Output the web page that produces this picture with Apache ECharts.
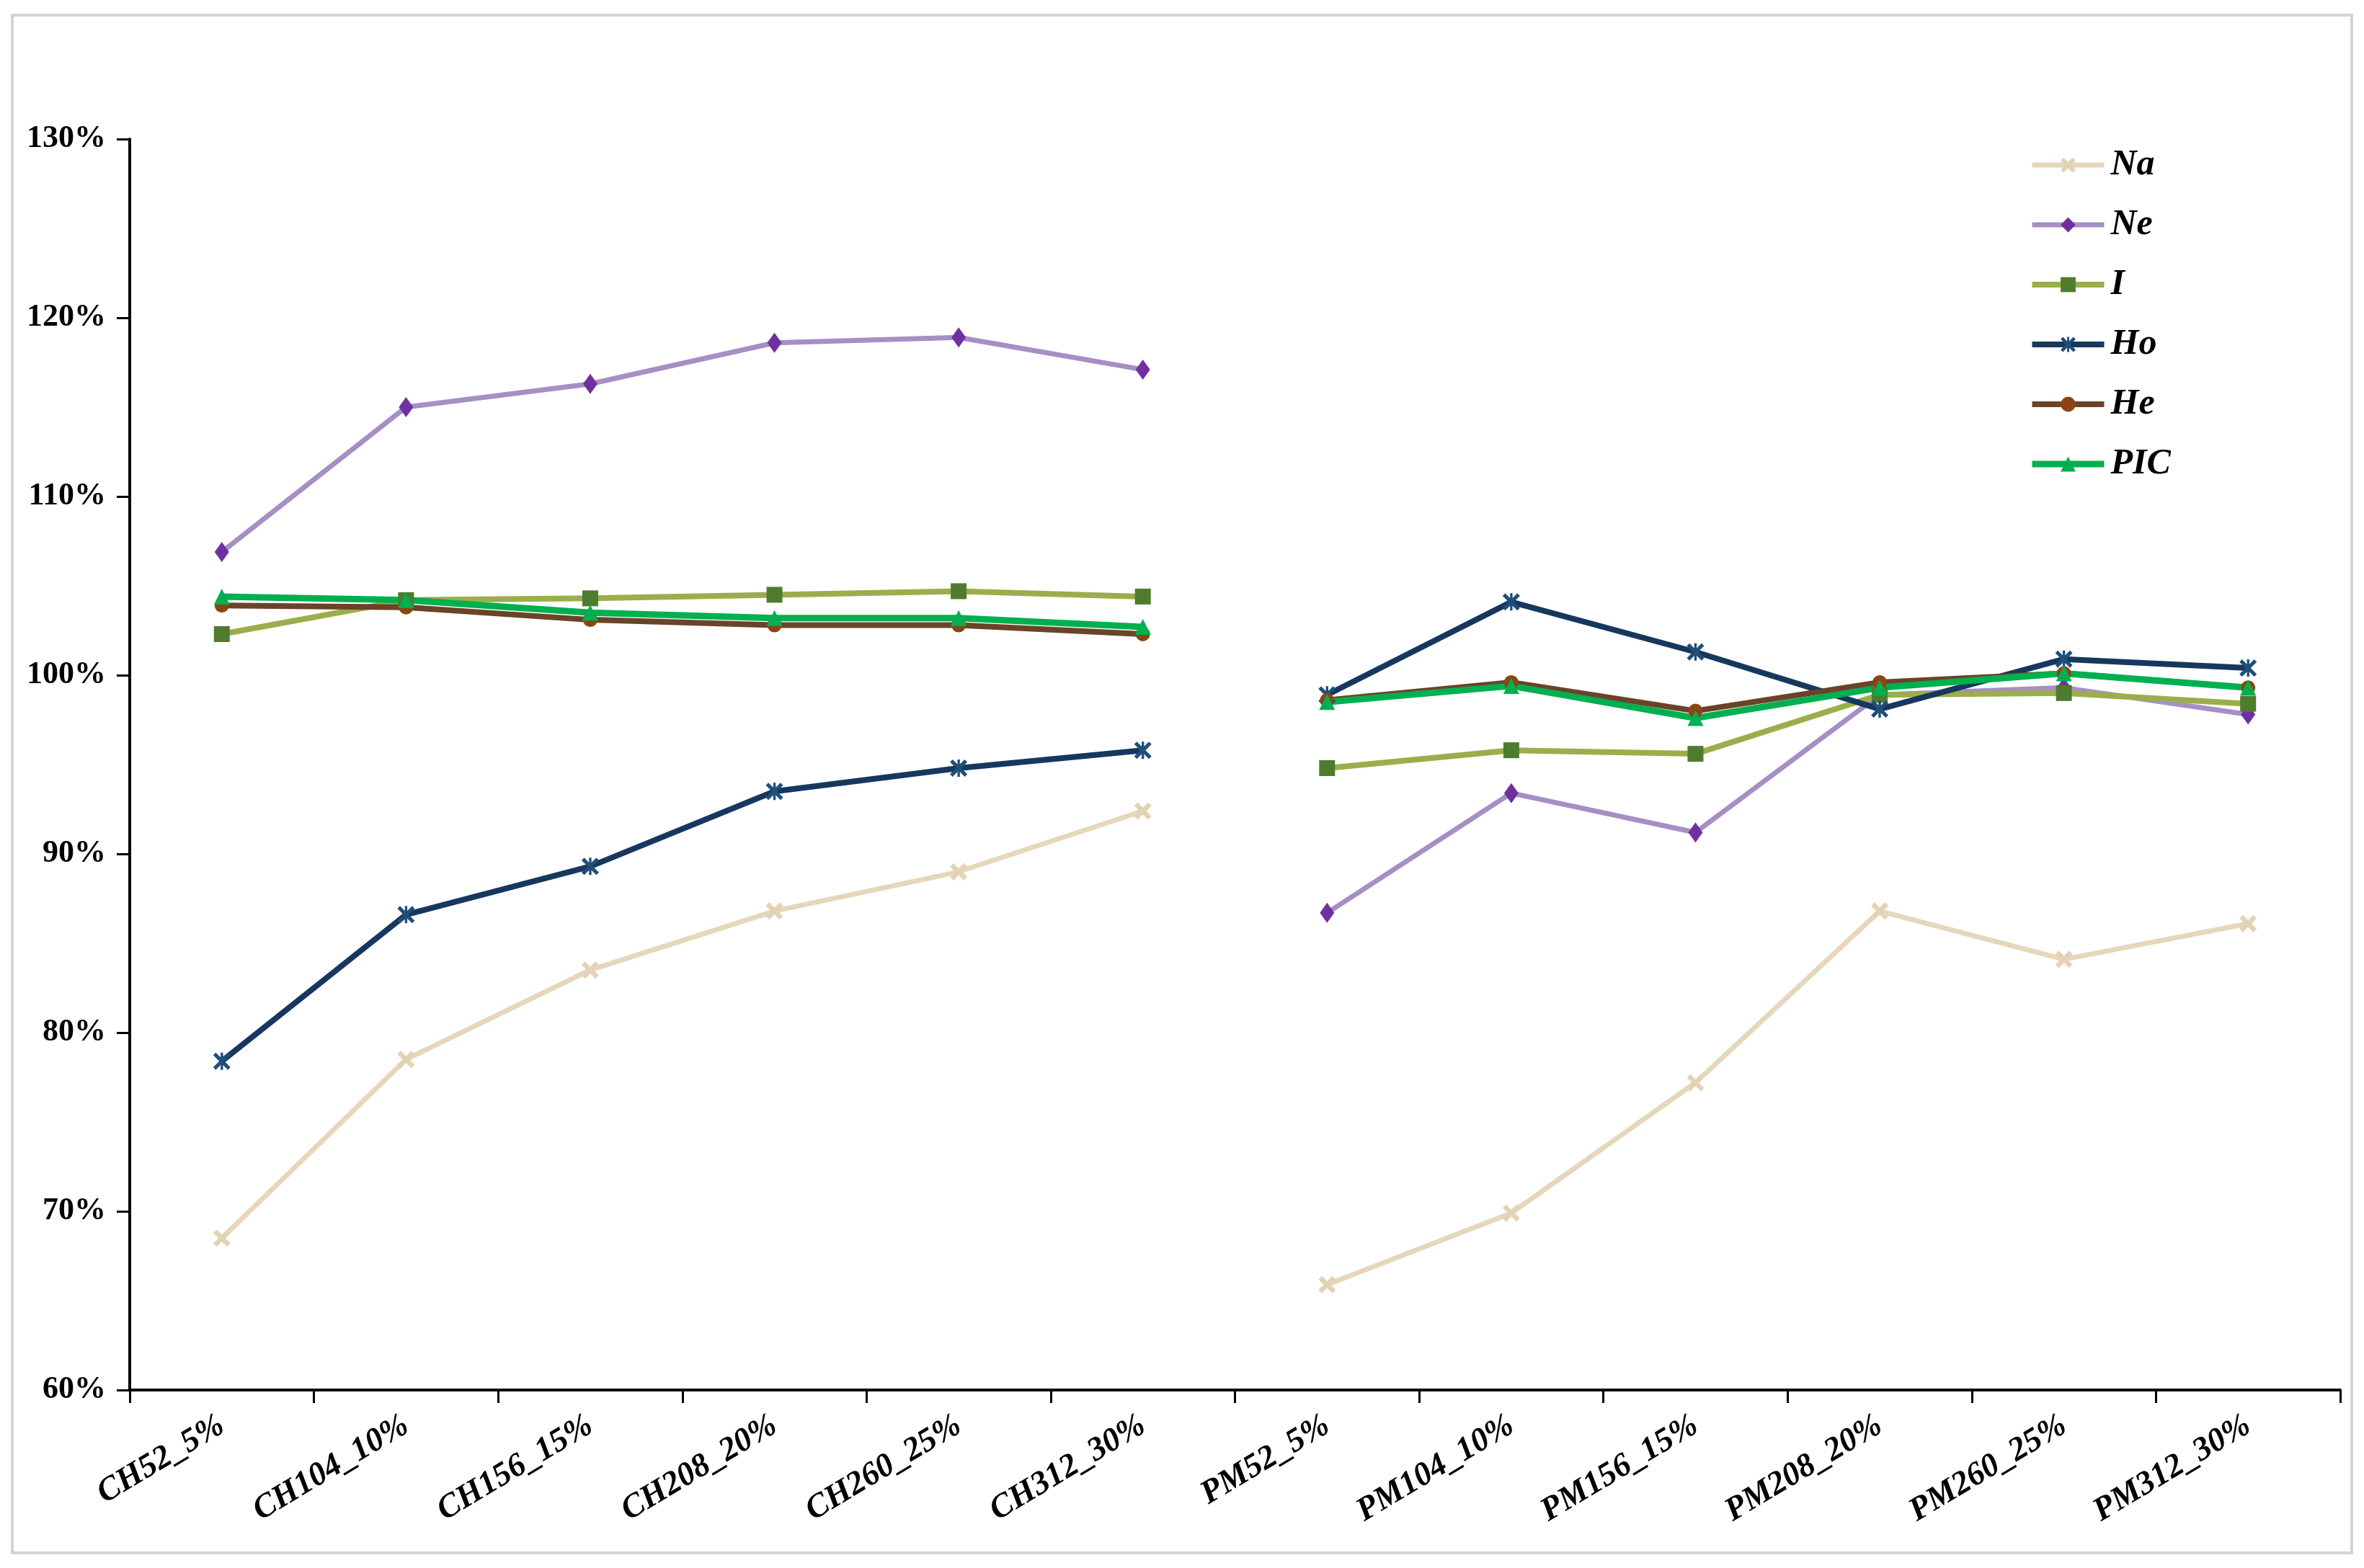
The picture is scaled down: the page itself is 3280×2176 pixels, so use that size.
<!DOCTYPE html>
<html>
<head>
<meta charset="utf-8">
<script src="https://cdn.jsdelivr.net/npm/echarts@6/dist/echarts.min.js"></script>
<style>html,body{margin:0;padding:0;background:#fff;}#c{width:3280px;height:2176px;}</style>
</head>
<body>
<div id="c"></div>
<script>
const categories = ['CH52_5%','CH104_10%','CH156_15%','CH208_20%','CH260_25%','CH312_30%','PM52_5%','PM104_10%','PM156_15%','PM208_20%','PM260_25%','PM312_30%'];
const Na  = [68.5, 78.5, 83.5, 86.8, 89.0, 92.4, 65.9, 69.9, 77.2, 86.8, 84.1, 86.1];
const Ne  = [106.9, 115.0, 116.3, 118.6, 118.9, 117.1, 86.7, 93.4, 91.2, 98.9, 99.3, 97.8];
const I   = [102.3, 104.2, 104.3, 104.5, 104.7, 104.4, 94.8, 95.8, 95.6, 98.9, 99.0, 98.4];
const Ho  = [78.4, 86.6, 89.3, 93.5, 94.8, 95.8, 98.9, 104.1, 101.3, 98.1, 100.9, 100.4];
const He  = [103.9, 103.8, 103.1, 102.8, 102.8, 102.3, 98.6, 99.6, 98.0, 99.6, 100.1, 99.3];
const PIC = [104.4, 104.2, 103.5, 103.2, 103.2, 102.7, 98.5, 99.4, 97.6, 99.3, 100.1, 99.3];
const yTicks = {min: 60, max: 130, interval: 10};

const X_PATH = 'path://M2,0 L5,3 L8,0 L10,2 L7,5 L10,8 L8,10 L5,7 L2,10 L0,8 L3,5 L0,2 Z';
const STAR_PATH = 'path://M1.5,0 L5,3.5 L8.5,0 L10,1.5 L6.5,5 L10,8.5 L8.5,10 L5,6.5 L1.5,10 L0,8.5 L3.5,5 L0,1.5 Z M4.3,0 L5.7,0 L5.7,10 L4.3,10 Z';

const defs = [
  {name: 'Na',  data: Na,  line: '#E6D7BB', mark: '#E3D2B4', symbol: X_PATH, size: 24, w: 7},
  {name: 'Ne',  data: Ne,  line: '#A68FC4', mark: '#7030A0', symbol: 'diamond', size: [20, 28], w: 7},
  {name: 'I',   data: I,   line: '#9BAE4C', mark: '#4F7B2E', symbol: 'rect', size: 22, w: 8},
  {name: 'Ho',  data: Ho,  line: '#17375E', mark: '#1F4E79', symbol: STAR_PATH, size: 24, w: 8},
  {name: 'He',  data: He,  line: '#6B4328', mark: '#8B4513', symbol: 'circle', size: 20, w: 8},
  {name: 'PIC', data: PIC, line: '#00B050', mark: '#00B050', symbol: 'triangle', size: 22, w: 9}
];

const series = [];
defs.forEach(d => {
  const ch = d.data.map((v, i) => i < 6 ? v : null);
  const pm = d.data.map((v, i) => i >= 6 ? v : null);
  [ch, pm].forEach(arr => {
    series.push({
      name: d.name,
      type: 'line',
      data: arr,
      connectNulls: false,
      symbol: d.symbol,
      symbolSize: d.size,
      showAllSymbol: true,
      lineStyle: {color: d.line, width: d.w},
      itemStyle: {color: d.mark, borderWidth: 0},
      emphasis: {disabled: true}
    });
  });
});

const chart = echarts.init(document.getElementById('c'), null, {renderer: 'canvas'});
chart.setOption({
  animation: false,
  backgroundColor: '#ffffff',
  graphic: [{
    type: 'rect',
    shape: {x: 17, y: 21, width: 3246, height: 2134},
    style: {fill: 'none', stroke: '#d4d4d4', lineWidth: 4},
    silent: true
  }],
  grid: {left: 180, right: 33, top: 193, bottom: 247, containLabel: false},
  legend: {
    orient: 'vertical',
    left: 2810,
    top: 198,
    itemWidth: 100,
    itemHeight: 26,
    itemGap: 31,
    lineStyle: {width: 'inherit'},
    data: defs.map(d => d.name),
    textStyle: {
      fontFamily: 'Liberation Serif',
      fontWeight: 'bold',
      fontStyle: 'italic',
      fontSize: 50,
      lineHeight: 52,
      color: '#000',
      padding: [0, 0, 0, 4]
    }
  },
  xAxis: {
    type: 'category',
    data: categories,
    boundaryGap: true,
    axisLine: {lineStyle: {color: '#000', width: 4}},
    axisTick: {show: true, length: 18, lineStyle: {color: '#000', width: 3}},
    axisLabel: {
      interval: 0,
      rotate: 31,
      margin: 46,
      fontFamily: 'Liberation Serif',
      fontWeight: 'bold',
      fontStyle: 'italic',
      fontSize: 46,
      color: '#000'
    },
    splitLine: {show: false}
  },
  yAxis: {
    type: 'value',
    min: yTicks.min,
    max: yTicks.max,
    interval: yTicks.interval,
    axisLine: {show: true, lineStyle: {color: '#000', width: 4}},
    axisTick: {show: true, length: 18, lineStyle: {color: '#000', width: 3}},
    axisLabel: {
      formatter: '{value}%',
      margin: 33,
      fontFamily: 'Liberation Serif',
      fontWeight: 'bold',
      fontSize: 44,
      color: '#000'
    },
    splitLine: {show: false}
  },
  series: series
});
</script>
</body>
</html>
